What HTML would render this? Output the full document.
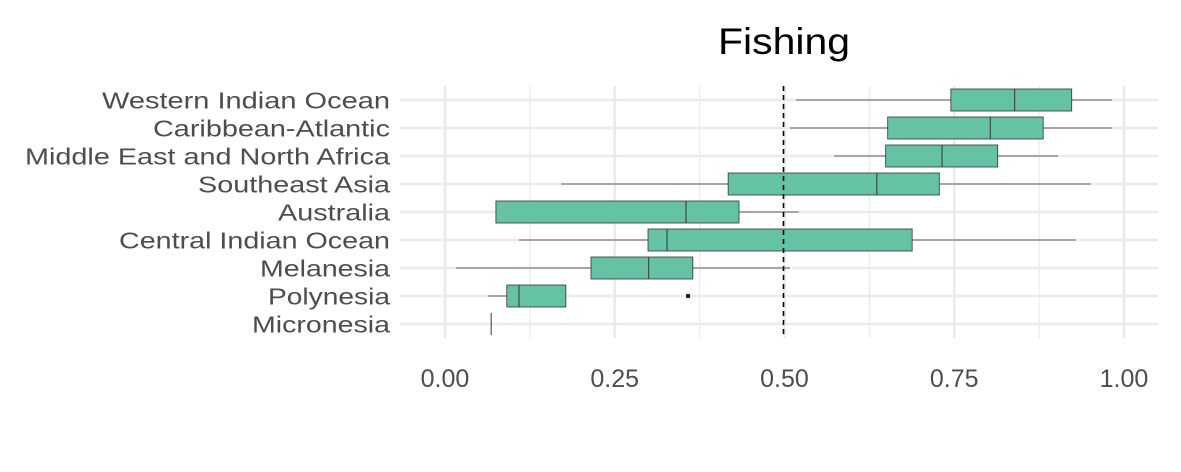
<!DOCTYPE html>
<html><head><meta charset="utf-8"><style>
html,body{margin:0;padding:0;background:#fff;}
svg{display:block;font-family:"Liberation Sans",Arial,sans-serif;}
</style></head><body>
<svg id="chart" width="1181" height="472">
<text x="718" y="54" font-size="37" fill="#000" textLength="132" lengthAdjust="spacingAndGlyphs">Fishing</text>
<g id="grid"></g><g id="boxes"></g><g id="ylabels"></g><g id="xlabels"></g>
</svg>
<script>
const categories=["Western Indian Ocean","Caribbean-Atlantic","Middle East and North Africa","Southeast Asia","Australia","Central Indian Ocean","Melanesia","Polynesia","Micronesia"];
const lowW=[0.517,0.508,0.573,0.171,0.075,0.109,0.016,0.063,0.068];
const q1=[0.745,0.652,0.649,0.417,0.075,0.299,0.215,0.091,0.068];
const med=[0.839,0.803,0.732,0.636,0.355,0.327,0.300,0.109,0.068];
const q3=[0.923,0.881,0.814,0.728,0.433,0.688,0.365,0.178,0.068];
const highW=[0.982,0.982,0.903,0.951,0.521,0.929,0.508,0.178,0.068];
const outliers=[[],[],[],[],[],[],[],[0.358],[]];
const xTicks=[0,0.25,0.5,0.75,1];
const xTickLabels=["0.00","0.25","0.50","0.75","1.00"];
const labelWidths=[288,237,365,192,112,271,130,122,138];
const NS="http://www.w3.org/2000/svg";
const x=v=>445+v*679;
const y=i=>100+i*28;
function mk(tag,attrs,parent){const e=document.createElementNS(NS,tag);for(const k in attrs)e.setAttribute(k,attrs[k]);parent.appendChild(e);return e;}
const grid=document.getElementById('grid'),boxes=document.getElementById('boxes'),yl=document.getElementById('ylabels'),xl=document.getElementById('xlabels');
for(let i=0;i<xTicks.length-1;i++){const m=(xTicks[i]+xTicks[i+1])/2;
const g=mk('line',{x1:x(m),x2:x(m),y1:86,y2:338,stroke:'#ebebeb','stroke-width':1.3},grid);

}
xTicks.forEach((t,i)=>{const g=mk('line',{x1:x(t),x2:x(t),y1:86,y2:338,stroke:'#ebebeb','stroke-width':2.6},grid);


const tx=mk('text',{x:x(t),y:387,'font-size':25,'text-anchor':'middle',fill:'#4d4d4d'},xl);tx.textContent=xTickLabels[i];

});
categories.forEach((c,i)=>{const g=mk('line',{x1:400,x2:1158,y1:y(i),y2:y(i),stroke:'#ebebeb','stroke-width':2.6},grid);


const t=mk('text',{x:390-labelWidths[i],y:y(i)+8.5,'font-size':23,fill:'#4d4d4d',textLength:labelWidths[i],lengthAdjust:'spacingAndGlyphs'},yl);t.textContent=c;

});
categories.forEach((c,i)=>{const yc=y(i),h=22;
const g=mk('g',{},boxes);


mk('line',{x1:x(lowW[i]),x2:x(q1[i]),y1:yc,y2:yc,stroke:'#333','stroke-width':0.8},g);
mk('line',{x1:x(q3[i]),x2:x(highW[i]),y1:yc,y2:yc,stroke:'#333','stroke-width':0.8},g);
if(q3[i]-q1[i]>0.001){mk('rect',{x:x(q1[i]),y:yc-h/2,width:x(q3[i])-x(q1[i]),height:h,fill:'#66c2a5',stroke:'#333','stroke-width':0.8},g);}
mk('line',{x1:x(med[i]),x2:x(med[i]),y1:yc-h/2,y2:yc+h/2,stroke:'#333','stroke-width':1},g);
outliers[i].forEach(o=>{const r=mk('rect',{x:x(o)-2,y:yc-2,width:4,height:4,fill:'#222'},g);

});});
const d=mk('line',{x1:x(0.5)-1,x2:x(0.5)-1,y1:86,y2:338,stroke:'#000','stroke-width':1.6,'stroke-dasharray':'5,4'},boxes);


</script>
</body></html>
